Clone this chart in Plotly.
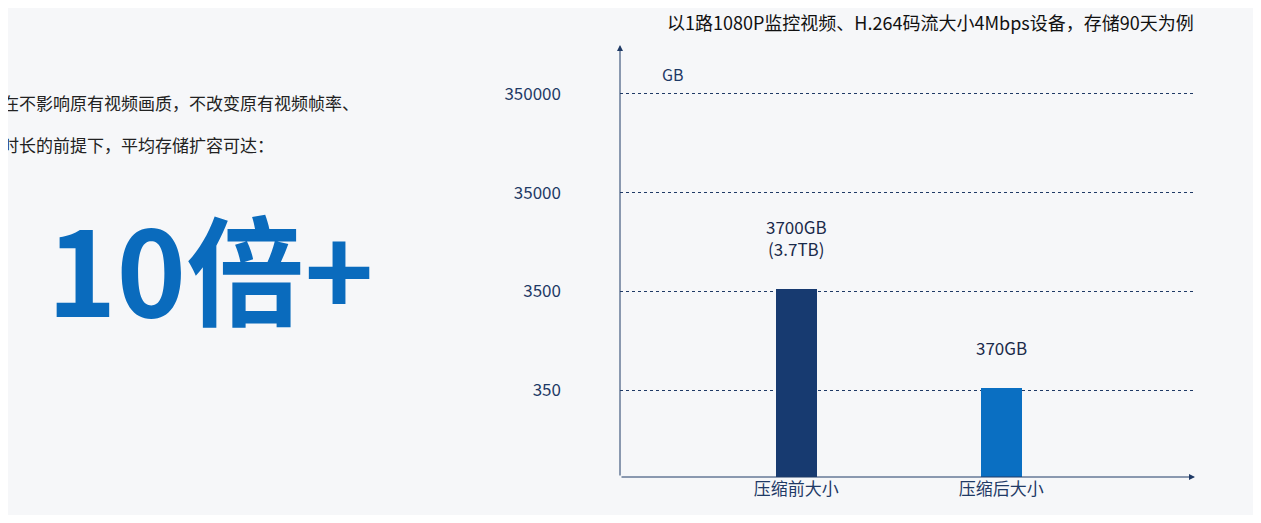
import math
import plotly.graph_objects as go

categories = ['压缩前大小', '压缩后大小']
sizes_gb = [3700, 370]
bar_labels = ['3700GB<br>(3.7TB)', '370GB']
bar_colors = ['#173a70', '#0a6fc2']
tick_vals = [350, 3500, 35000, 350000]

navy = '#1f3a66'

fig = go.Figure()
fig.add_trace(go.Bar(
    x=categories, y=sizes_gb, width=0.2,
    marker=dict(color=bar_colors, line=dict(width=0)),
    showlegend=False, hoverinfo='skip'
))

for cat, val, lab in zip(categories, sizes_gb, bar_labels):
    fig.add_annotation(x=cat, y=math.log10(val), text=lab, showarrow=False,
                       yanchor='bottom', yshift=26,
                       font=dict(size=17, color='#1a2a4a'))

# axes with arrows
fig.add_annotation(xref='paper', yref='paper', x=0, y=1.0, ax=0, ay=432,
                   showarrow=True, arrowhead=2, arrowsize=1.2, arrowwidth=1,
                   arrowcolor=navy, text='')
fig.add_annotation(xref='paper', yref='paper', x=1.0, y=0, ax=-575, ay=0,
                   showarrow=True, arrowhead=2, arrowsize=1.2, arrowwidth=1,
                   arrowcolor=navy, text='')

fig.add_annotation(xref='paper', yref='paper', x=0.07, y=1.0, yshift=-15,
                   text='GB', showarrow=False, font=dict(size=16, color=navy))
fig.add_annotation(xref='paper', yref='paper', x=0.54, y=1.0, yshift=23,
                   text='以1路1080P监控视频、H.264码流大小4Mbps设备，存储90天为例',
                   showarrow=False, yanchor='middle', xanchor='center',
                   font=dict(size=18, color='#111'))

# left side text
fig.add_annotation(xref='paper', yref='paper', x=-1.078, y=0.9,
                   xanchor='left', showarrow=False,
                   text='在不影响原有视频画质，不改变原有视频帧率、',
                   font=dict(size=17, color='#222'))
fig.add_annotation(xref='paper', yref='paper', x=-1.078, y=0.803,
                   xanchor='left', showarrow=False,
                   text='时长的前提下，平均存储扩容可达：',
                   font=dict(size=17, color='#222'))
fig.add_annotation(xref='paper', yref='paper', x=-1.0, y=0.49,
                   xanchor='left', showarrow=False,
                   text='<b>10倍+</b>',
                   font=dict(size=118, color='#0a6bbd'))

fig.update_layout(
    width=1245, height=507,
    margin=dict(l=612, r=58, t=37, b=38),
    paper_bgcolor='#f6f7f9', plot_bgcolor='rgba(0,0,0,0)',
    font=dict(family='Noto Sans CJK SC, sans-serif'),
    bargap=0,
)
fig.update_xaxes(range=[-0.86, 1.945], showline=False, showgrid=False,
                 ticks='', tickfont=dict(size=17, color=navy))
fig.update_yaxes(type='log', range=[1.665, 6.04], tickvals=tick_vals,
                 ticktext=[str(v) for v in tick_vals],
                 showgrid=True, gridcolor=navy, griddash='dot', gridwidth=1,
                 zeroline=False, showline=False, ticks='',
                 ticklabelstandoff=58, tickfont=dict(size=17, color=navy))

fig.write_html('out.html')
